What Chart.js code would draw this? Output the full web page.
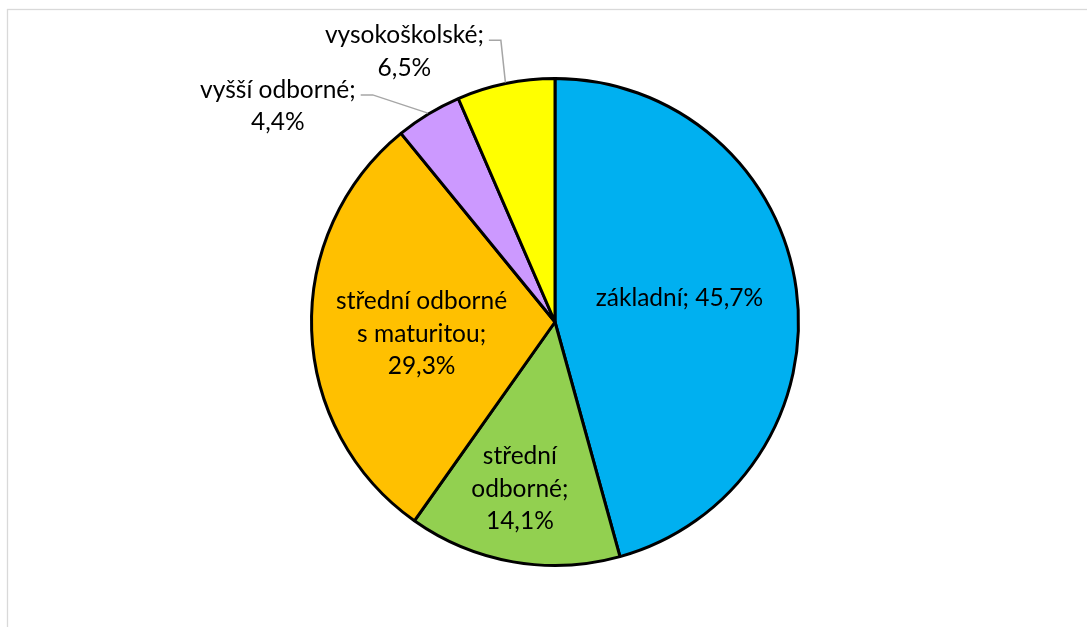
<!DOCTYPE html>
<html>
<head>
<meta charset="utf-8">
<script src="https://cdn.jsdelivr.net/npm/chart.js@4/dist/chart.umd.min.js"></script>
<style>
html,body{margin:0;padding:0;background:#fff;}
#wrap{position:relative;width:1087px;height:627px;}
</style>
</head>
<body>
<div id="wrap"><canvas id="c" width="1087" height="627"></canvas></div>
<script>
const categories = ['základní', 'střední odborné', 'střední odborné s maturitou', 'vyšší odborné', 'vysokoškolské'];
const values = [45.7, 14.1, 29.3, 4.4, 6.5];
const labelLines = [
  ['základní; 45,7%'],
  ['střední', 'odborné;', '14,1%'],
  ['střední odborné', 's maturitou;', '29,3%'],
  ['vyšší odborné;', '4,4%'],
  ['vysokoškolské;', '6,5%']
];
const colors = ['#00B0F0', '#92D050', '#FFC000', '#CC99FF', '#FFFF00'];

const FONT_FAMILY = 'Lato, "Open Sans", sans-serif';
const FONT_SIZE = 24.5;
const LINE_H = 32.5;

// label placement styles: inside -> radial fraction; outside -> offset from edge point
const labelStyle = [
  {inside: true, frac: 0.52, angAdj: -3},
  {inside: true, frac: 0.70, angAdj: 2},
  {inside: true, frac: 0.55, angAdj: -3},
  {inside: false, dx: -150, dy: -7},
  {inside: false, dx: -101, dy: -31}
];

const framePlugin = {
  id: 'frame',
  beforeDraw(chart) {
    const ctx = chart.ctx;
    ctx.save();
    ctx.strokeStyle = '#d9d9d9';
    ctx.lineWidth = 1.3;
    ctx.strokeRect(7.5, 9.5, 1200, 800);
    ctx.restore();
  }
};

const labelPlugin = {
  id: 'pieLabels',
  afterDatasetsDraw(chart) {
    const ctx = chart.ctx;
    const meta = chart.getDatasetMeta(0);
    ctx.save();
    ctx.font = FONT_SIZE + 'px ' + FONT_FAMILY;
    ctx.fillStyle = '#000';
    ctx.textAlign = 'center';
    ctx.textBaseline = 'middle';
    meta.data.forEach((arc, i) => {
      const p = arc.getProps(['x', 'y', 'startAngle', 'endAngle', 'outerRadius'], true);
      const mid = (p.startAngle + p.endAngle) / 2;
      const st = labelStyle[i];
      const lines = labelLines[i];
      let cx, cy;
      if (st.inside) {
        const a = mid + st.angAdj * Math.PI / 180;
        cx = p.x + Math.cos(a) * p.outerRadius * st.frac;
        cy = p.y + Math.sin(a) * p.outerRadius * st.frac;
      } else {
        const ex = p.x + Math.cos(mid) * (p.outerRadius + 1);
        const ey = p.y + Math.sin(mid) * (p.outerRadius + 1);
        cx = ex + st.dx;
        cy = ey + st.dy;
        // leader line
        const w = ctx.measureText(lines[0]).width;
        const ly = cy - (lines.length - 1) * LINE_H / 2 + 5;
        const sx = cx + w / 2 + 5;
        ctx.save();
        ctx.strokeStyle = '#a6a6a6';
        ctx.lineWidth = 1.5;
        ctx.beginPath();
        ctx.moveTo(sx, ly);
        ctx.lineTo(sx + 12, ly);
        ctx.lineTo(ex, ey);
        ctx.stroke();
        ctx.restore();
      }
      const top = cy - (lines.length - 1) * LINE_H / 2;
      lines.forEach((t, k) => ctx.fillText(t, cx, top + k * LINE_H));
    });
    ctx.restore();
  }
};

new Chart(document.getElementById('c'), {
  type: 'pie',
  data: {
    labels: categories,
    datasets: [{
      data: values,
      backgroundColor: colors,
      borderColor: '#000',
      borderWidth: 3,
      hoverOffset: 0
    }]
  },
  options: {
    responsive: false,
    animation: false,
    layout: {padding: {left: 310, right: 287, top: 77, bottom: 60}},
    plugins: {
      legend: {display: false},
      tooltip: {enabled: false}
    }
  },
  plugins: [framePlugin, labelPlugin]
});
</script>
</body>
</html>
